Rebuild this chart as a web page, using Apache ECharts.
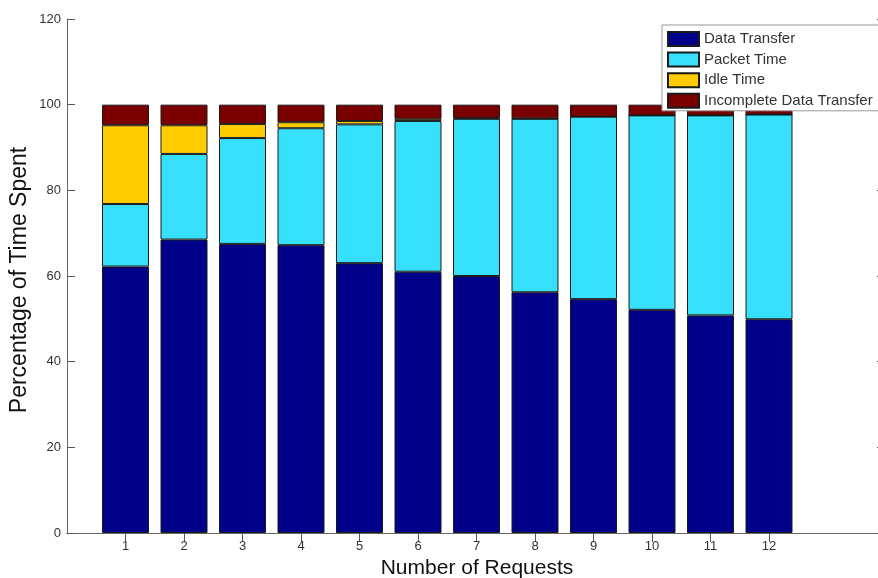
<!DOCTYPE html>
<html>
<head>
<meta charset="utf-8">
<script src="https://cdn.jsdelivr.net/npm/echarts@6/dist/echarts.min.js"></script>
<style>html,body{margin:0;padding:0;background:#fff;}#c{width:878px;height:578px;}</style>
</head>
<body>
<div id="c"></div>
<script>
// axis slots 0..14 (MATLAB-style bar axis); requests occupy 1..12
const categories = ['', '1', '2', '3', '4', '5', '6', '7', '8', '9', '10', '11', '12', '', ''];
const dataTransfer = [null, 62.2, 68.5, 67.5, 67.2, 63.0, 61.0, 60.0, 56.2, 54.6, 52.1, 50.8, 49.9, null, null];
const packetTime   = [null, 14.6, 20.0, 24.7, 27.3, 32.4, 35.2, 36.7, 40.5, 42.6, 45.4, 46.7, 47.8, null, null];
const idleTime     = [null, 18.4, 6.7, 3.3, 1.4, 0.8, 0.5, 0.2, 0.1, 0.0, 0.0, 0.0, 0.0, null, null];
const incomplete   = [null, 4.8, 4.8, 4.5, 4.1, 3.8, 3.3, 3.1, 3.2, 2.8, 2.5, 2.5, 2.3, null, null];
const yTicks = [0, 20, 40, 60, 80, 100, 120];

const FONT = "'Liberation Sans',Arial,sans-serif";
const chart = echarts.init(document.getElementById('c'), null, {renderer: 'canvas'});

function mk(name, vals, color) {
  return {
    name: name, type: 'bar', stack: 'all', barWidth: 47,
    data: vals,
    itemStyle: {color: color, borderColor: '#1a1a1a', borderWidth: 1},
    emphasis: {disabled: true},
    animation: false
  };
}
const tickOn = (idx, val) => val !== '';

chart.setOption({
  animation: false,
  backgroundColor: '#ffffff',
  grid: {left: 67, width: 819, top: 19, bottom: 45, containLabel: false, outerBoundsMode: 'none'},
  xAxis: [{
    type: 'category', data: categories, boundaryGap: false, position: 'bottom',
    axisLine: {show: true, onZero: false, lineStyle: {color: '#666', width: 1}},
    axisTick: {show: true, inside: true, length: 8, interval: tickOn, lineStyle: {color: '#555'}},
    axisLabel: {color: '#333', fontSize: 13, fontFamily: FONT, margin: 7, interval: 0},
    splitLine: {show: false}
  }, {
    type: 'category', data: categories, boundaryGap: false, position: 'top',
    axisLine: {show: true, lineStyle: {color: '#666', width: 1}},
    axisTick: {show: true, inside: true, length: 9, interval: tickOn, lineStyle: {color: '#555'}},
    axisLabel: {show: false},
    splitLine: {show: false}
  }],
  yAxis: [{
    type: 'value', min: 0, max: 120, interval: 20, position: 'left',
    axisLine: {show: true, lineStyle: {color: '#666', width: 1}},
    axisTick: {show: true, inside: true, length: 8, lineStyle: {color: '#555'}},
    axisLabel: {color: '#333', fontSize: 13, fontFamily: FONT, margin: 6,
      formatter: v => (yTicks.indexOf(v) >= 0 ? String(v) : '')},
    splitLine: {show: false}
  }, {
    type: 'value', min: 0, max: 120, interval: 20, position: 'right',
    axisLine: {show: true, lineStyle: {color: '#666', width: 1}},
    axisTick: {show: true, inside: true, length: 9, lineStyle: {color: '#555'}},
    axisLabel: {show: false},
    splitLine: {show: false}
  }],
  legend: {
    left: 662, top: 25, orient: 'vertical',
    icon: 'rect',
    itemWidth: 31, itemHeight: 14, itemGap: 4.6,
    padding: [6, 20, 2, 5],
    backgroundColor: '#fff', borderColor: '#999', borderWidth: 1,
    textStyle: {fontSize: 15, lineHeight: 16, color: '#333', fontFamily: FONT},
    selectedMode: false,
    data: ['Data Transfer', 'Packet Time', 'Idle Time', 'Incomplete Data Transfer']
  },
  graphic: [{
    type: 'text', x: 20, y: 280, rotation: Math.PI / 2,
    style: {text: 'Percentage of Time Spent', fill: '#111', font: "23px 'Liberation Sans',Arial,sans-serif",
      align: 'center', verticalAlign: 'middle'}
  }, {
    type: 'text', x: 477, y: 568,
    style: {text: 'Number of Requests', fill: '#111', font: "21px 'Liberation Sans',Arial,sans-serif",
      align: 'center', verticalAlign: 'middle'}
  }],
  series: [
    mk('Data Transfer', dataTransfer, '#000088'),
    mk('Packet Time', packetTime, '#36e0fb'),
    mk('Idle Time', idleTime, '#ffcc00'),
    mk('Incomplete Data Transfer', incomplete, '#7a0000')
  ]
});
</script>
</body>
</html>
